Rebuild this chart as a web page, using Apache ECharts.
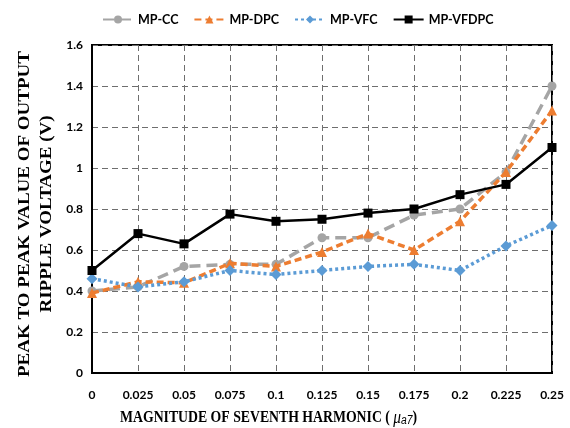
<!DOCTYPE html>
<html>
<head>
<meta charset="utf-8">
<script src="https://cdn.jsdelivr.net/npm/echarts@6/dist/echarts.min.js"></script>
<style>
  html, body { margin: 0; padding: 0; background: #fff; }
  #chart { width: 570px; height: 428px; }
</style>
</head>
<body>
<div id="chart"></div>
<script>
// Magnitude of the seventh harmonic (x categories)
const harmonic = ['0', '0.025', '0.05', '0.075', '0.1', '0.125', '0.15', '0.175', '0.2', '0.225', '0.25'];

// Peak-to-peak output ripple voltage (V) per control method
const mpCC    = [0.40, 0.42, 0.52, 0.53, 0.53, 0.66, 0.66, 0.77, 0.80, 0.98, 1.40];
const mpDPC   = [0.39, 0.445, 0.44, 0.535, 0.52, 0.59, 0.68, 0.60, 0.74, 0.98, 1.28];
const mpVFC   = [0.46, 0.42, 0.445, 0.50, 0.48, 0.50, 0.52, 0.53, 0.50, 0.62, 0.72];
const mpVFDPC = [0.50, 0.68, 0.63, 0.775, 0.74, 0.75, 0.78, 0.80, 0.87, 0.92, 1.10];

const yTicks = { min: 0, max: 1.6, interval: 0.2 };

const labelFont = 'Lato, "Open Sans", sans-serif';
const titleFont = '"Liberation Serif", "Times New Roman", serif';

const chart = echarts.init(document.getElementById('chart'));

chart.setOption({
  animation: false,
  backgroundColor: '#fff',
  legend: {
    top: 8,
    left: 97,
    itemWidth: 30,
    itemHeight: 10,
    itemGap: 15,
    textStyle: { fontFamily: labelFont, fontWeight: 'bold', fontSize: 12.5, color: '#000' },
    data: ['MP-CC', 'MP-DPC', 'MP-VFC', 'MP-VFDPC']
  },
  grid: {
    left: 92, right: 18, top: 45, bottom: 55,
    show: true, borderColor: '#000', borderWidth: 2, backgroundColor: 'transparent'
  },
  xAxis: {
    type: 'category',
    data: harmonic,
    boundaryGap: false,
    axisLine: { lineStyle: { color: '#000', width: 2 } },
    axisTick: { show: false },
    axisLabel: { fontFamily: labelFont, fontWeight: 'bold', fontSize: 12, color: '#000', margin: 16 },
    splitLine: { show: true, lineStyle: { color: '#6e6e6e', type: [6, 4], width: 1 } }
  },
  yAxis: {
    type: 'value',
    min: yTicks.min, max: yTicks.max, interval: yTicks.interval,
    axisLine: { show: true, lineStyle: { color: '#000', width: 2 } },
    axisTick: { show: false },
    axisLabel: { fontFamily: labelFont, fontWeight: 'bold', fontSize: 12, color: '#000', margin: 9 },
    splitLine: { show: true, lineStyle: { color: '#6e6e6e', type: [6, 4], width: 1 } }
  },
  graphic: [
    {
      // x-axis title, slightly condensed horizontally
      type: 'text',
      x: 120,
      y: 409,
      scaleX: 0.86,
      style: {
        text: 'MAGNITUDE OF SEVENTH HARMONIC ( {mu|μ}{sub|a7}{p|)}',
        rich: {
          mu: { fontFamily: titleFont, fontStyle: 'italic', fontSize: 18, fill: '#000' },
          sub: { fontFamily: 'Liberation Sans, sans-serif', fontStyle: 'italic', fontSize: 12, fill: '#000', padding: [6, 0, 0, 0] },
          p: { fontFamily: titleFont, fontWeight: 'bold', fontSize: 16, fill: '#000' }
        },
        font: 'bold 16px ' + titleFont,
        fill: '#000'
      }
    },
    {
      // y-axis title, two lines, rotated to read bottom-up
      type: 'text',
      x: 36,
      y: 214,
      rotation: Math.PI / 2,
      scaleY: 0.85,
      style: {
        text: 'PEAK TO PEAK VALUE OF OUTPUT\nRIPPLE VOLTAGE (V)',
        font: 'bold 19px ' + titleFont,
        fill: '#000',
        align: 'center',
        verticalAlign: 'middle',
        lineHeight: 26
      }
    }
  ],
  series: [
    {
      name: 'MP-CC', type: 'line', data: mpCC,
      symbol: 'circle', symbolSize: 9,
      itemStyle: { color: '#A5A5A5' },
      lineStyle: { color: '#A5A5A5', width: 3.5, type: [11, 6] },
      z: 2
    },
    {
      name: 'MP-DPC', type: 'line', data: mpDPC,
      symbol: 'triangle', symbolSize: 10,
      itemStyle: { color: '#ED7D31' },
      lineStyle: { color: '#ED7D31', width: 3.5, type: [7, 4] },
      z: 3
    },
    {
      name: 'MP-VFC', type: 'line', data: mpVFC,
      symbol: 'diamond', symbolSize: 11,
      itemStyle: { color: '#5B9BD5' },
      lineStyle: { color: '#5B9BD5', width: 3.5, type: [3, 3] },
      z: 4
    },
    {
      name: 'MP-VFDPC', type: 'line', data: mpVFDPC,
      symbol: 'rect', symbolSize: 9,
      itemStyle: { color: '#000' },
      lineStyle: { color: '#000', width: 2.5 },
      z: 5
    }
  ]
});
</script>
</body>
</html>
